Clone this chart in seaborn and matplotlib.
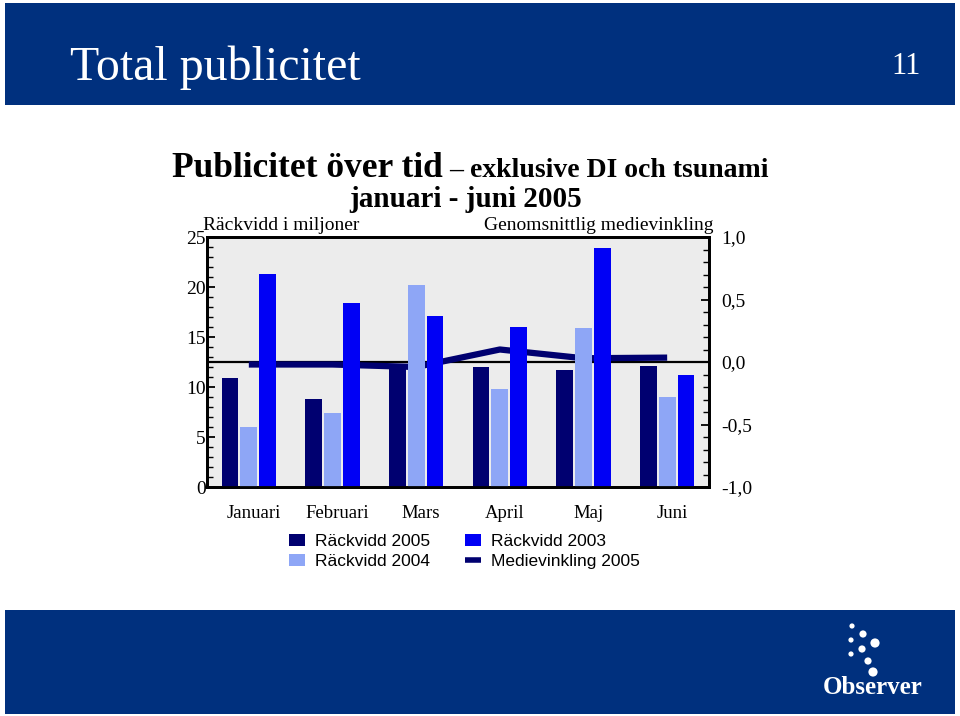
import numpy as np
import pandas as pd
import matplotlib
matplotlib.use("Agg")
import matplotlib.pyplot as plt
import matplotlib.transforms as mtrans
import seaborn as sns
from matplotlib.patches import Rectangle, Ellipse, Patch
from matplotlib.lines import Line2D
from matplotlib.ticker import MultipleLocator, FuncFormatter

# ---------------- data ----------------
months = ["Januari", "Februari", "Mars", "April", "Maj", "Juni"]
series = ["Räckvidd 2005", "Räckvidd 2004", "Räckvidd 2003"]
rackvidd_2005 = [10.9, 8.8, 12.1, 12.0, 11.7, 12.1]
rackvidd_2004 = [6.0, 7.4, 20.2, 9.8, 15.9, 9.0]
rackvidd_2003 = [21.3, 18.4, 17.1, 16.0, 23.9, 11.2]
medievinkling_2005 = [-0.02, -0.02, -0.04, 0.10, 0.03, 0.035]
line_label = "Medievinkling 2005"

C2005 = "#000070"
C2004 = "#8EA6F6"
C2003 = "#0000F5"
LINEC = "#000070"
BANNER = "#00307E"

sns.set_theme(style="white", rc={"text.color": "black", "xtick.color": "black",
                                 "ytick.color": "black", "axes.edgecolor": "black"})
plt.rcParams["font.family"] = ["Liberation Serif", "DejaVu Serif"]

fig = plt.figure(figsize=(9.6, 7.16), dpi=100)
fig.patch.set_facecolor("white")

# banners
fig.patches.append(Rectangle((5 / 960, 1 - 105 / 716), 950 / 960, 102 / 716,
                             transform=fig.transFigure, facecolor=BANNER,
                             edgecolor="none", zorder=0))
fig.patches.append(Rectangle((5 / 960, 1 - 714 / 716), 950 / 960, 104 / 716,
                             transform=fig.transFigure, facecolor=BANNER,
                             edgecolor="none", zorder=0))
fig.text(70 / 960, 1 - 68 / 716, "Total publicitet", color="white", fontsize=34.5,
         ha="left", va="center")
fig.text(921 / 960, 1 - 67 / 716, "11", color="white", fontsize=22,
         ha="right", va="center")

# logo
dots = [(852, 626, 2.6), (863, 634, 3.6), (851, 640, 2.6), (875, 643, 4.6),
        (862, 649, 3.6), (851, 654, 2.6), (868, 661, 3.6), (873, 672, 4.6)]
for (x, y, r) in dots:
    fig.patches.append(Ellipse((x / 960, 1 - y / 716), 2 * r / 960, 2 * r / 716,
                               transform=fig.transFigure, facecolor="white",
                               edgecolor="none", zorder=2))
fig.text(873 / 960, 1 - 687 / 716, "Observer", color="white", fontsize=18,
         fontweight="bold", ha="center", va="center")

# titles
fig.text(172 / 960, 1 - 177 / 716, "Publicitet över tid", fontsize=25.5,
         fontweight="bold", ha="left", va="baseline")
fig.text(449 / 960, 1 - 177 / 716, "– exklusive DI och tsunami", fontsize=20,
         fontweight="bold", ha="left", va="baseline")
fig.text(466 / 960, 1 - 207 / 716, "januari - juni 2005", fontsize=21,
         fontweight="bold", ha="center", va="baseline")
fig.text(203 / 960, 1 - 226 / 716, "Räckvidd i miljoner", fontsize=14,
         ha="left", va="center")
fig.text(714 / 960, 1 - 226 / 716, "Genomsnittlig medievinkling", fontsize=14,
         ha="right", va="center")

# axes
ax = fig.add_axes([207 / 960, 1 - 487 / 716, 502 / 960, 250 / 716])
ax2 = ax.twinx()
ax.set_zorder(ax2.get_zorder() + 1)
ax.patch.set_visible(False)
ax2.patch.set_visible(True)
ax2.set_facecolor("#ECECEC")

df = pd.DataFrame({
    "Månad": months * 3,
    "Serie": [series[0]] * 6 + [series[1]] * 6 + [series[2]] * 6,
    "Räckvidd": rackvidd_2005 + rackvidd_2004 + rackvidd_2003,
})
sns.barplot(data=df, x="Månad", y="Räckvidd", hue="Serie", hue_order=series,
            order=months, palette=[C2005, C2004, C2003], saturation=1,
            width=0.68, gap=0.12, errorbar=None, linewidth=0, legend=False, ax=ax)

ax2.axhline(0, color="black", lw=1.6, zorder=1)
sns.lineplot(x=np.arange(len(months)), y=medievinkling_2005, ax=ax2, color=LINEC,
             linewidth=4.5, legend=False, solid_capstyle="butt", zorder=2)

ax.set_xlim(-0.5, len(months) - 0.5)
ax.set_ylim(0, 25)
ax2.set_ylim(-1, 1)
for a in (ax, ax2):
    a.set_xlabel("")
    a.set_ylabel("")
    for s in a.spines.values():
        s.set_visible(True)
        s.set_color("black")
        s.set_linewidth(2)

ax.yaxis.set_major_locator(MultipleLocator(5))
ax.yaxis.set_minor_locator(MultipleLocator(1))
ax.tick_params(axis="y", which="both", direction="in", left=True, right=False,
               labelsize=14, pad=1)
ax.tick_params(axis="y", which="major", length=6, width=1.3)
ax.tick_params(axis="y", which="minor", length=4, width=1.0)
ax.tick_params(axis="x", direction="in", length=3, width=1.2, bottom=True,
               labelsize=13.5, pad=13)

ax2.yaxis.set_major_locator(MultipleLocator(0.5))
ax2.yaxis.set_minor_locator(MultipleLocator(0.1))
ax2.yaxis.set_major_formatter(FuncFormatter(lambda v, p: f"{v:.1f}".replace(".", ",")))
ax2.tick_params(axis="y", which="both", direction="in", right=True, left=False,
                labelsize=14, pad=9)
ax2.tick_params(axis="y", which="major", length=6, width=1.3)
ax2.tick_params(axis="y", which="minor", length=4, width=1.0)

off = mtrans.ScaledTranslation(5 / 100, 0, fig.dpi_scale_trans)
for lab in ax.get_xticklabels():
    lab.set_transform(lab.get_transform() + off)

# legend
handles = [Patch(facecolor=C2005, edgecolor="none"),
           Patch(facecolor=C2004, edgecolor="none"),
           Patch(facecolor=C2003, edgecolor="none"),
           Line2D([], [], color=LINEC, lw=4, solid_capstyle="butt")]
labels = [series[0], series[1], series[2], line_label]
fig.legend(handles, labels, ncol=2, loc="upper left",
           bbox_to_anchor=(289 / 960, 1 - 534 / 716), frameon=False,
           prop={"family": ["Liberation Sans", "DejaVu Sans"], "size": 12.5},
           handlelength=0.95, handleheight=0.65, handletextpad=0.55,
           columnspacing=2.0, labelspacing=0.28, borderpad=0, borderaxespad=0)

fig.savefig("out.png", dpi=100, facecolor="white")
